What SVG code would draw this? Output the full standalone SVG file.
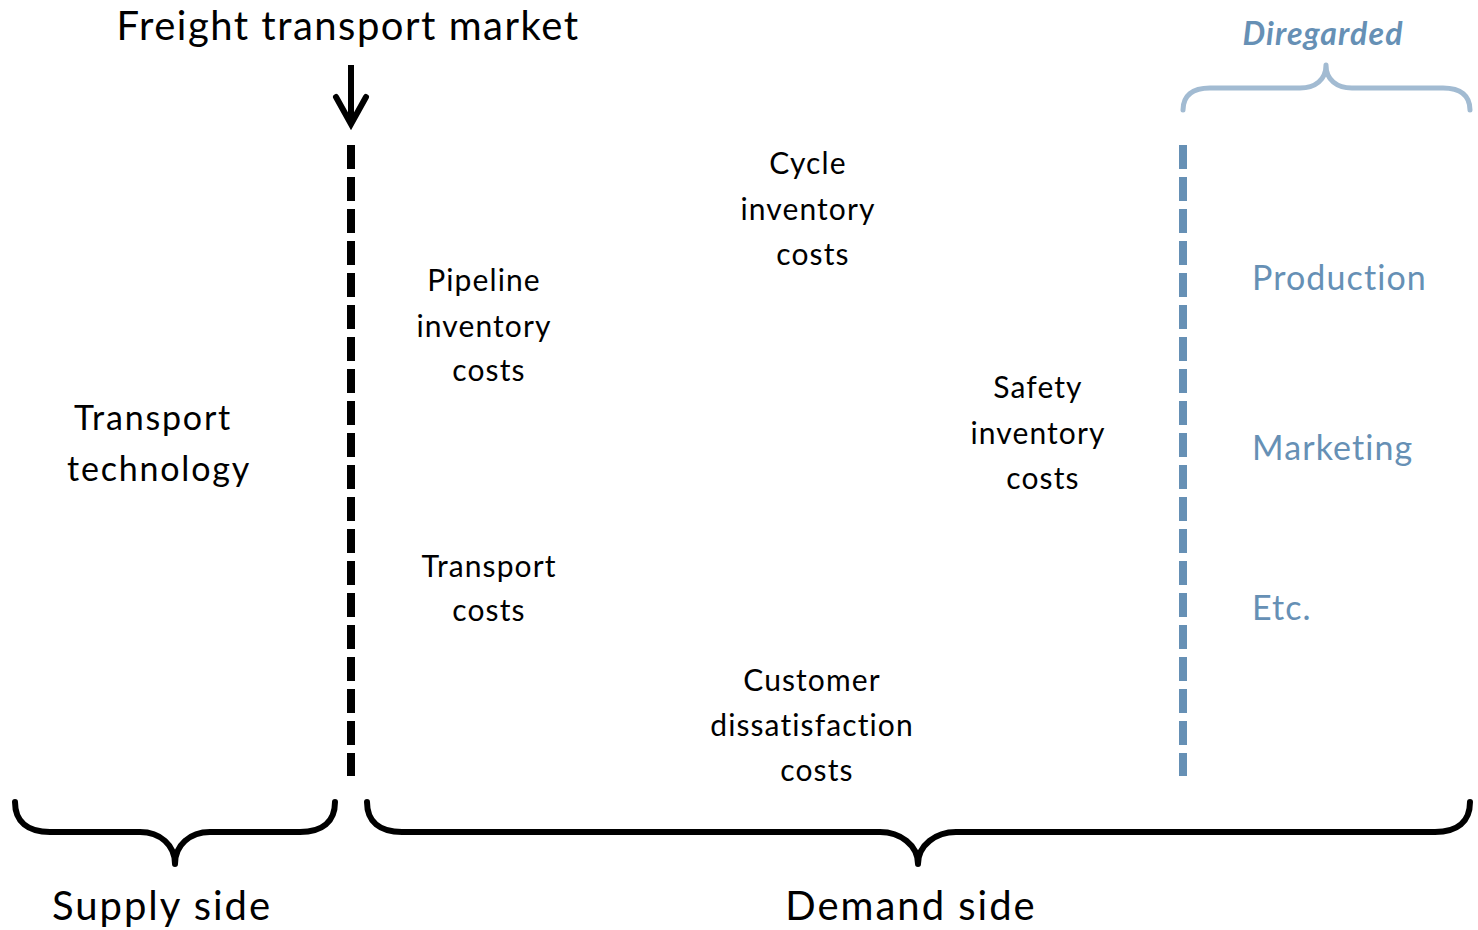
<svg xmlns="http://www.w3.org/2000/svg" width="1478" height="930" viewBox="0 0 1478 930">
<style>
.t{font-family:Lato,"Open Sans","Liberation Sans",sans-serif;fill:#000;text-anchor:middle}
.b{font-family:Lato,"Open Sans","Liberation Sans",sans-serif;fill:#6690B5;letter-spacing:1.1px}
.l{font-size:30px;letter-spacing:1.1px}
.br{fill:none;stroke:#000;stroke-width:6;stroke-linecap:round;stroke-linejoin:round}
</style>
<rect width="1478" height="930" fill="#fff"/>
<g id="title"><text class="t" x="348" y="40" font-size="40" letter-spacing="1.5">Freight transport market</text></g>
<g id="connectors">
<line x1="351" y1="65" x2="351" y2="122" stroke="#000" stroke-width="6"/>
<polyline points="336,97 351,124 366,97" fill="none" stroke="#000" stroke-width="6" stroke-linecap="round" stroke-linejoin="miter"/>
<line x1="351" y1="145" x2="351" y2="776" stroke="#000" stroke-width="8" stroke-dasharray="24 8"/>
<line x1="1183" y1="145" x2="1183" y2="776" stroke="#6690B5" stroke-width="8" stroke-dasharray="24 8"/>
<path class="br" d="M15,802 C15,822 28,832 50,832 L140,832 C160,832 175,845 175,864 C175,845 190,832 210,832 L300,832 C322,832 335,822 335,802"/>
<path class="br" d="M367,802 C367,822 380,832 402,832 L880,832 C900,832 918,845 918,864 C918,845 936,832 956,832 L1435,832 C1457,832 1470,822 1470,802"/>
<path d="M1183,110 C1183,96 1192,88 1210,88 L1300,88 C1315,88 1326,80 1326,65 C1326,80 1337,88 1352,88 L1443,88 C1461,88 1470,96 1470,110" fill="none" stroke="#A2BBD2" stroke-width="5" stroke-linecap="round" stroke-linejoin="round"/>
</g>
<g id="diregarded"><text class="b" x="1323" y="45" font-size="32" font-weight="bold" font-style="italic" text-anchor="middle" letter-spacing="1">Diregarded</text></g>
<g id="transport-technology"><text class="t" font-size="34" letter-spacing="1.8"><tspan x="153" y="430">Transport</tspan><tspan x="159" y="481">technology</tspan></text></g>
<g id="pipeline"><text class="t l"><tspan x="484" y="291">Pipeline</tspan><tspan x="484" y="337">inventory</tspan><tspan x="489" y="381">costs</tspan></text></g>
<g id="cycle"><text class="t l"><tspan x="808" y="174">Cycle</tspan><tspan x="808" y="220">inventory</tspan><tspan x="813" y="265">costs</tspan></text></g>
<g id="safety"><text class="t l"><tspan x="1038" y="398">Safety</tspan><tspan x="1038" y="444">inventory</tspan><tspan x="1043" y="489">costs</tspan></text></g>
<g id="transport-costs"><text class="t l"><tspan x="489" y="577">Transport</tspan><tspan x="489" y="621">costs</tspan></text></g>
<g id="customer"><text class="t l"><tspan x="812" y="691">Customer</tspan><tspan x="812" y="736">dissatisfaction</tspan><tspan x="817" y="781">costs</tspan></text></g>
<g id="production"><text class="b" x="1252" y="290" font-size="34">Production</text></g>
<g id="marketing"><text class="b" x="1252" y="460" font-size="34">Marketing</text></g>
<g id="etc"><text class="b" x="1252" y="620" font-size="34">Etc.</text></g>
<g id="supply"><text class="t" x="162" y="920" font-size="40" letter-spacing="2">Supply side</text></g>
<g id="demand"><text class="t" x="911" y="920" font-size="40" letter-spacing="2">Demand side</text></g>
</svg>
